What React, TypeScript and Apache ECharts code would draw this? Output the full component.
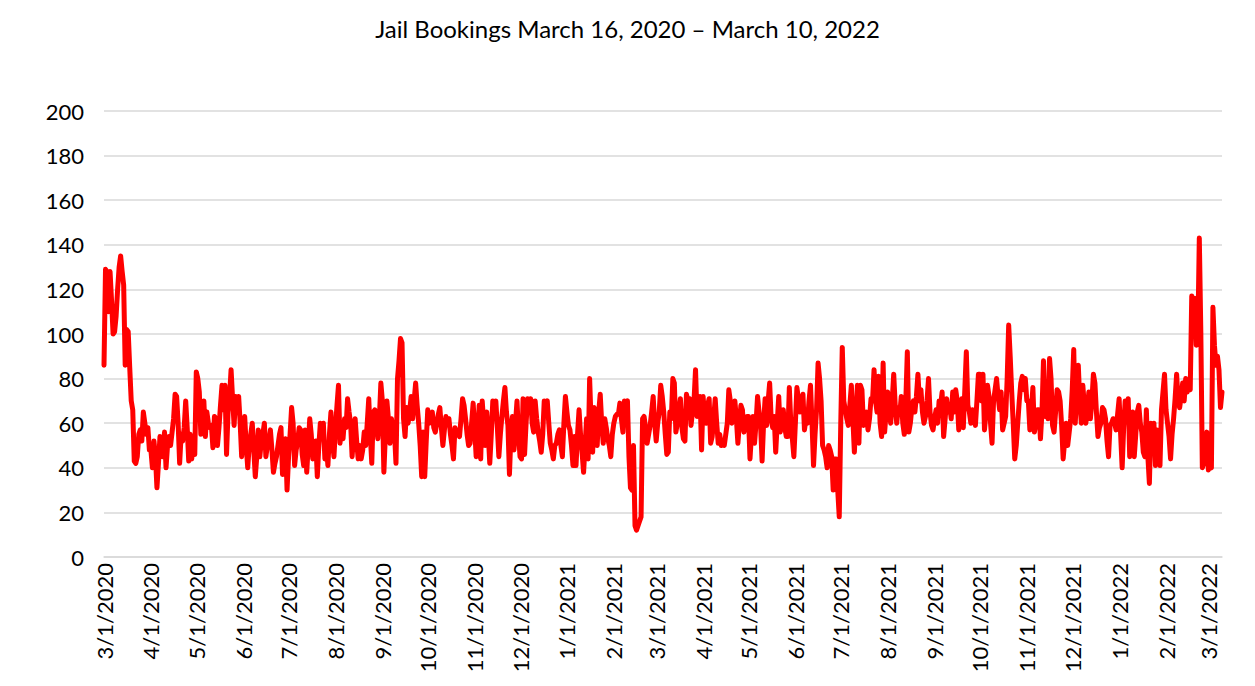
import { useEffect, useRef } from "react";
import * as echarts from "echarts";

// Daily jail bookings, one array per month (first day: 3/1/2020)
const mar2020 = [86,129,128,110,128,115,100,101,108,120,130,135,128,122,86,102,101,85,70,66,43,42,45,55,57,52,65,60,55,58,48];
const apr2020 = [48,40,52,45,31,42,54,52,45,56,40,50,54,50,56,62,73,72,60,42,55,52,58,70,58,43,55,44,54,46];
const may2020 = [83,80,74,55,62,70,54,65,60,58,59,49,63,62,50,58,68,77,66,77,46,65,72,84,71,59,72,65,72,60,45];
const jun2020 = [55,63,50,40,50,55,60,48,36,45,57,45,52,55,60,45,50,52,57,48,38,42,45,50,55,58,37,45,53,30];
const jul2020 = [45,55,67,60,41,48,52,58,57,46,41,57,38,50,62,55,44,48,52,36,50,60,58,60,44,50,41,55,65,52,45];
const aug2020 = [58,68,77,51,59,53,62,58,71,65,60,45,55,62,52,44,50,44,48,56,50,60,71,55,42,65,66,60,53,62,78];
const sep2020 = [70,38,55,70,62,51,62,58,56,42,80,88,98,96,62,54,67,60,65,72,62,70,78,68,60,50,36,56,36,52];
const oct2020 = [66,60,64,65,58,56,60,64,67,58,50,57,63,60,62,55,50,44,58,55,56,54,62,71,68,62,55,50,51,60,69];
const nov2020 = [58,45,55,68,44,70,60,50,65,55,42,55,70,62,70,58,45,55,63,70,76,65,59,37,55,63,48,60,70,55];
const dec2020 = [45,44,71,46,60,71,65,71,60,56,70,62,56,52,47,55,70,68,70,60,51,48,44,50,51,55,57,50,45,60,72];
const jan2021 = [65,59,57,50,41,54,41,55,66,55,47,38,50,62,44,80,60,47,67,55,50,65,73,60,51,62,58,53,50,45,55];
const feb2021 = [60,63,64,64,69,62,56,70,68,70,45,31,30,50,14,12,14,16,18,62,63,58,51,55,59,65,72,60];
const mar2021 = [52,60,65,77,72,65,55,46,47,65,62,80,78,56,60,66,71,58,53,52,73,70,71,59,65,70,84,63,66,72,48];
const apr2021 = [72,63,60,68,71,51,54,62,71,60,51,55,50,52,50,55,60,75,70,60,65,70,62,51,60,68,66,56,60,63];
const may2021 = [63,44,55,63,51,60,72,65,59,43,60,71,59,70,78,62,58,63,47,60,72,56,60,66,58,54,54,76,60,53,45];
const jun2021 = [60,76,71,65,70,73,57,62,60,70,77,60,41,55,66,87,80,70,50,48,45,40,50,48,45,30,44,44,30,18];
const jul2021 = [60,94,70,66,62,59,68,77,62,47,62,77,51,77,75,59,63,65,57,62,71,70,84,70,65,81,60,54,87,56,65];
const aug2021 = [74,65,60,70,82,68,60,67,64,72,60,55,70,92,56,60,67,70,65,72,82,70,75,65,60,63,70,80,65,59,57];
const sep2021 = [62,66,60,70,68,74,54,62,71,65,68,62,74,65,75,70,57,65,71,58,75,92,68,65,60,66,62,59,70,82];
const oct2021 = [82,70,82,57,65,77,72,60,51,70,75,80,72,66,74,57,60,63,80,104,90,74,60,44,50,60,70,78,81,75,80];
const nov2021 = [70,70,57,66,76,56,60,66,66,53,65,88,63,70,62,89,80,59,56,65,75,74,70,59,44,52,60,50,56,62];
const dec2021 = [75,93,60,75,86,70,60,77,68,60,66,74,62,70,82,78,65,54,58,60,67,66,62,52,45,59,60,62,60,57,64];
const jan2022 = [71,55,40,58,70,65,71,45,60,65,45,55,65,68,60,56,47,45,66,45,33,60,55,60,41,57,50,41,66,74,82];
const feb2022 = [66,60,54,44,55,62,71,82,70,67,72,78,70,80,74,78,75,117,105,116,95,98,143,101,40,42,50,56];
const mar2022 = [39,41,40,112,95,86,90,84,67,74];

const monthly = [
  mar2020, apr2020, may2020, jun2020, jul2020, aug2020, sep2020, oct2020, nov2020, dec2020,
  jan2021, feb2021, mar2021, apr2021, may2021, jun2021, jul2021, aug2021, sep2021, oct2021,
  nov2021, dec2021, jan2022, feb2022, mar2022,
];
const bookings: number[] = monthly.flat();

const TITLE = "Jail Bookings March 16, 2020 \u2013 March 10, 2022";
const Y_MIN = 0;
const Y_MAX = 200;
const Y_STEP = 20;

const dates: string[] = bookings.map((_, i) => {
  const dt = new Date(Date.UTC(2020, 2, 1 + i));
  return `${dt.getUTCMonth() + 1}/${dt.getUTCDate()}/${dt.getUTCFullYear()}`;
});

const FONT = "Lato, 'Noto Sans', sans-serif";

export default function App() {
  const ref = useRef<HTMLDivElement>(null);

  useEffect(() => {
    if (!ref.current) return;
    const chart = echarts.init(ref.current, undefined, { renderer: "svg" });
    const isMonthStart = (_idx: number, value: string) => value.split("/")[1] === "1";
    chart.setOption({
      animation: false,
      backgroundColor: "#ffffff",
      title: {
        text: TITLE,
        left: "center",
        top: 11,
        textStyle: { fontFamily: FONT, fontSize: 24, fontWeight: "normal", color: "#000000" },
      },
      grid: {
        left: 104,
        right: 33,
        top: 111,
        bottom: 129,
        containLabel: false,
        outerBoundsMode: "none",
      },
      xAxis: {
        type: "category",
        data: dates,
        boundaryGap: false,
        axisLine: { show: true, lineStyle: { color: "#d9d9d9", width: 1.5 } },
        axisTick: { show: false },
        axisLabel: {
          interval: isMonthStart,
          rotate: 90,
          margin: 6,
          fontFamily: FONT,
          fontSize: 22,
          color: "#000000",
        },
        splitLine: { show: false },
      },
      yAxis: {
        type: "value",
        min: Y_MIN,
        max: Y_MAX,
        interval: Y_STEP,
        axisLine: { show: false },
        axisTick: { show: false },
        axisLabel: { margin: 20, fontFamily: FONT, fontSize: 22, color: "#000000" },
        splitLine: { lineStyle: { color: "#d9d9d9", width: 1.5 } },
      },
      series: [
        {
          type: "line",
          data: bookings,
          showSymbol: false,
          symbol: "none",
          smooth: false,
          lineStyle: { color: "#ff0000", width: 5, join: "round", cap: "round" },
          itemStyle: { color: "#ff0000" },
        },
      ],
    });
    return () => chart.dispose();
  }, []);

  return (
    <div
      ref={ref}
      style={{ position: "fixed", left: 0, top: 0, width: 1255, height: 686, background: "#fff" }}
    />
  );
}
